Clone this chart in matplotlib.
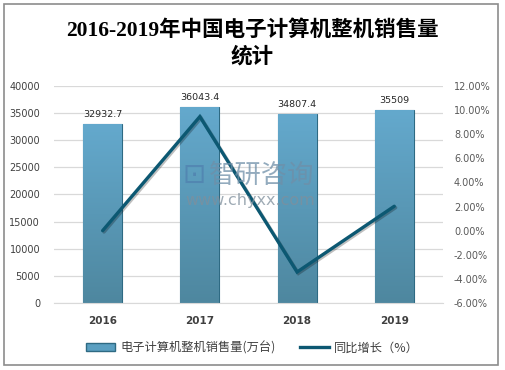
import numpy as np
import matplotlib
matplotlib.use("Agg")
import matplotlib.pyplot as plt
import matplotlib.patheffects as pe
from matplotlib.patches import Rectangle, Patch
from matplotlib.lines import Line2D
from matplotlib.ticker import FuncFormatter, MultipleLocator

plt.rcParams['font.family'] = ['DejaVu Sans', 'Noto Sans CJK SC']

years = ['2016', '2017', '2018', '2019']
sales = [32932.7, 36043.4, 34807.4, 35509]
growth = [0.0, 9.45, -3.43, 2.02]
sales_labels = ['32932.7', '36043.4', '34807.4', '35509']

fig = plt.figure(figsize=(5.05, 3.70), dpi=100)
fig.patches.append(Rectangle((0.008, 0.014), 0.979, 0.975, transform=fig.transFigure,
                             fill=False, edgecolor='#8c8c8c', linewidth=1.2))

ax = fig.add_axes([0.107, 0.181, 0.770, 0.587])
ax2 = ax.twinx()

x = np.arange(len(years))
bars = ax.bar(x, sales, width=0.4, color='#5a9fc1', edgecolor='#2e6a83', linewidth=0.8,
              zorder=2)

# vertical gradient inside each bar
grad = np.linspace(0, 1, 256).reshape(-1, 1)
cmap = matplotlib.colors.LinearSegmentedColormap.from_list('b', ['#4e879f', '#64a9cd'])
for b in bars:
    x0, y0 = b.get_x(), b.get_y()
    im = ax.imshow(grad, cmap=cmap, aspect='auto', origin='lower',
                   extent=[x0, x0 + b.get_width(), y0, y0 + b.get_height()], zorder=2)
    im.set_clip_path(b)

for xi, v, s in zip(x, sales, sales_labels):
    ax.text(xi, v + 900, s, ha='center', va='bottom', fontsize=6.8, color='#262626')

ax.set_xlim(-0.5, 3.5)
ax.set_ylim(0, 40000)
ax.yaxis.set_major_locator(MultipleLocator(5000))
ax.grid(axis='y', color='#d9d9d9', linewidth=0.9, zorder=0)
ax.set_axisbelow(True)
for sp in ax.spines.values():
    sp.set_visible(False)
ax.spines['bottom'].set_visible(True)
ax.spines['bottom'].set_color('#d9d9d9')
ax.tick_params(axis='both', length=0)
ax.tick_params(axis='y', labelsize=7, labelcolor='#404040', pad=10)
ax.set_xticks(x)
ax.set_xticklabels(years, fontsize=7.5, fontweight='bold', color='#404040')
ax.tick_params(axis='x', pad=9)

ax2.plot(x, growth, color='#0c5872', linewidth=2.4, solid_capstyle='round',
         solid_joinstyle='miter', zorder=5,
         path_effects=[pe.SimpleLineShadow(offset=(1, -1), alpha=0.25), pe.Normal()])
ax2.set_ylim(-6, 12)
ax2.yaxis.set_major_locator(MultipleLocator(2))
ax2.yaxis.set_major_formatter(FuncFormatter(lambda v, p: '%.2f%%' % v))
for sp in ax2.spines.values():
    sp.set_visible(False)
ax2.tick_params(axis='y', length=0, labelsize=7, labelcolor='#595959', pad=8)
ax.set_zorder(ax2.get_zorder() - 1)
ax2.patch.set_visible(False)

# watermark
fig.text(0.414, 0.527, '智研咨询', fontsize=19, color='#6f8fa8', alpha=0.75,
         ha='left', va='center', family='Noto Sans CJK SC')
fig.text(0.366, 0.458, 'www.chyxx.com', fontsize=11.5, color='#7f8f9c', alpha=0.75,
         ha='left', va='center')
fig.text(0.362, 0.527, '⊡', fontsize=20, color='#4f7fae', alpha=0.7,
         ha='left', va='center')

fig.text(0.5, 0.918, '2016-2019年中国电子计算机整机销售量', fontsize=15.5, fontweight='bold',
         ha='center', va='center', family=['Liberation Serif', 'Noto Sans CJK SC'])
fig.text(0.5, 0.845, '统计', fontsize=15.5, fontweight='bold',
         ha='center', va='center', family=['Liberation Serif', 'Noto Sans CJK SC'])

handles = [Patch(facecolor='#5a9fc1', edgecolor='#2e6a83'),
           Line2D([0], [0], color='#0c5872', linewidth=2.4)]
fig.legend(handles, ['电子计算机整机销售量(万台)', '同比增长（%）'], loc='center',
           bbox_to_anchor=(0.5, 0.06), ncol=2, frameon=False,
           labelcolor='#404040', handlelength=2.4, handleheight=0.6, handletextpad=0.4,
           columnspacing=2.0,
           prop={'family': ['Noto Sans CJK SC', 'DejaVu Sans'], 'size': 8.8})

fig.savefig('out.png', dpi=100)
